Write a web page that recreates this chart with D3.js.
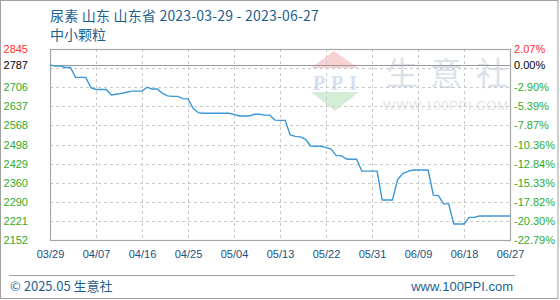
<!DOCTYPE html>
<html>
<head>
<meta charset="utf-8">
<script src="https://cdn.jsdelivr.net/npm/d3@7/dist/d3.min.js"></script>
<style>
  html, body { margin: 0; padding: 0; background: #fff; }
  svg { display: block; }
</style>
</head>
<body>
<svg id="chart" width="560" height="300"></svg>
<script>
// ---------- data ----------
const titleLine1 = "尿素 山东 山东省 2023-03-29 - 2023-06-27";
const titleLine2 = "中小颗粒";
const startDate = "2023-03-29";
const endDate = "2023-06-27";
const prices = [
  2787, 2783, 2783,                                   // 03/29 - 03/31
  2778, 2778, 2742, 2742, 2742, 2705, 2698, 2698, 2698, 2678,   // 04/01 - 04/10
  2681, 2684, 2688, 2692, 2692, 2692, 2706, 2700, 2700, 2684,   // 04/11 - 04/20
  2675, 2673, 2673, 2665, 2664, 2630, 2614, 2612, 2612, 2612,   // 04/21 - 04/30
  2612, 2612, 2612, 2608, 2602, 2602, 2602, 2608, 2608, 2605,   // 05/01 - 05/10
  2605, 2587, 2586, 2586, 2533, 2528, 2526, 2517, 2493, 2492,   // 05/11 - 05/20
  2492, 2487, 2482, 2458, 2458, 2446, 2445, 2445, 2402, 2402,   // 05/21 - 05/30
  2402,                                                          // 05/31
  2402, 2297, 2297, 2297, 2370, 2393, 2401, 2406, 2406, 2406,   // 06/01 - 06/10
  2405, 2315, 2313, 2283, 2283, 2210, 2210, 2210, 2234, 2234,   // 06/11 - 06/20
  2239, 2239, 2239, 2239, 2239, 2239, 2239                      // 06/21 - 06/27
];
const baseValue = 2787;
const yMin = 2152, yMax = 2845;
const leftTickValues = [2845, 2787, 2706, 2637, 2568, 2498, 2429, 2360, 2290, 2221, 2152];
const leftTickLabels = ["2845", "2787", "2706", "2637", "2568", "2498", "2429", "2360", "2290", "2221", "2152"];
const rightTickLabels = ["2.07%", "0.00%", "-2.90%", "-5.39%", "-7.87%", "-10.36%", "-12.84%", "-15.33%", "-17.82%", "-20.30%", "-22.79%"];
const gridValues = [2221.3, 2290.6, 2359.9, 2429.2, 2498.5, 2567.8, 2637.1, 2706.4, 2775.7];
const xTickLabels = ["03/29", "04/07", "04/16", "04/25", "05/04", "05/13", "05/22", "05/31", "06/09", "06/18", "06/27"];
const footerLeft = "© 2025.05 生意社";
const footerRight = "www.100PPI.com";
const watermarkChars = ["生", "意", "社"];

// ---------- layout ----------
const plot = { left: 50, right: 510, top: 49, bottom: 240 };
const svg = d3.select("#chart");
const parse = d3.utcParse("%Y-%m-%d");
const t0 = parse(startDate);
const dates = prices.map((_, i) => d3.utcDay.offset(t0, i));
const data = dates.map((d, i) => ({ date: d, value: prices[i] }));

const x = d3.scaleUtc().domain([t0, parse(endDate)]).range([plot.left, plot.right]);
const y = d3.scaleLinear().domain([yMin, yMax]).range([plot.bottom, plot.top]);
const xTickDates = xTickLabels.map(s => parse("2023-" + s.replace("/", "-")));

// outer border
svg.append("rect").attr("x", 0.5).attr("y", 0.5).attr("width", 557.5).attr("height", 298)
  .attr("fill", "none").attr("stroke", "#a0a0a0").attr("stroke-width", 1);

// titles
const titleColor = "#1f5f8f";
svg.append("text").attr("x", 50).attr("y", 21).attr("fill", titleColor)
  .attr("font-family", "'Noto Sans CJK SC', 'Liberation Sans', sans-serif").attr("font-size", 14)
  .attr("letter-spacing", 0.2)
  .text(titleLine1);
svg.append("text").attr("x", 50).attr("y", 40).attr("fill", titleColor)
  .attr("font-family", "'Noto Sans CJK SC', sans-serif").attr("font-size", 14)
  .text(titleLine2);

// watermark
const wm = svg.append("g");
wm.append("path").attr("d", "M334,51 L358,68 L311,68 Z").attr("fill", "#f8d2d2");
wm.append("text").attr("x", 335).attr("y", 90).attr("text-anchor", "middle")
  .attr("font-family", "'Liberation Serif', serif").attr("font-weight", "bold").attr("font-size", 20)
  .attr("textLength", 44).attr("fill", "#d6def0").text("PPI");
wm.append("path").attr("d", "M311,92 L359,92 L335,111 Z").attr("fill", "#d4edd7");
wm.selectAll("text.wmc").data(watermarkChars).join("text")
  .attr("class", "wmc")
  .attr("x", (d, i) => [402, 446, 492][i]).attr("y", 85).attr("text-anchor", "middle")
  .attr("font-family", "'Noto Sans CJK SC', sans-serif").attr("font-size", 32)
  .attr("fill", "#dbe1ec").text(d => d);
wm.append("text").attr("x", 383).attr("y", 110)
  .attr("font-family", "'Liberation Sans', sans-serif").attr("font-size", 13)
  .attr("textLength", 125).attr("fill", "#e4e4e4").text("WWW.100PPI.COM");

// grid
const grid = svg.append("g").attr("stroke", "#c8c8c8").attr("stroke-dasharray", "3,3").attr("stroke-width", 1);
grid.selectAll("line.h").data(gridValues).join("line")
  .attr("x1", plot.left).attr("x2", plot.right)
  .attr("y1", d => Math.round(y(d)) + 0.5).attr("y2", d => Math.round(y(d)) + 0.5);
grid.selectAll("line.v").data(xTickDates.slice(1, -1)).join("line")
  .attr("y1", plot.top).attr("y2", plot.bottom)
  .attr("x1", d => Math.round(x(d)) + 0.5).attr("x2", d => Math.round(x(d)) + 0.5);

// base (0.00%) line
svg.append("line").attr("x1", plot.left).attr("x2", plot.right)
  .attr("y1", Math.round(y(baseValue)) + 0.5).attr("y2", Math.round(y(baseValue)) + 0.5)
  .attr("stroke", "#999").attr("stroke-width", 1);

// frame
svg.append("rect").attr("x", plot.left + 0.5).attr("y", plot.top + 0.5)
  .attr("width", plot.right - plot.left).attr("height", plot.bottom - plot.top)
  .attr("fill", "none").attr("stroke", "#a6a6a6").attr("stroke-width", 1.2);

// line
svg.append("path").datum(data)
  .attr("fill", "none").attr("stroke", "#3a98d8").attr("stroke-width", 1.4)
  .attr("d", d3.line().x(d => x(d.date)).y(d => y(d.value)));

// left axis labels
const labelColor = (i) => i === 0 ? "#ff3030" : (i === 1 ? "#000" : "#2eaa2e");
const leftAxis = d3.axisLeft(y).tickValues(leftTickValues).tickSize(0).tickPadding(0)
  .tickFormat((d, i) => leftTickLabels[i]);
const gl = svg.append("g").attr("transform", "translate(28,0)").call(leftAxis);
gl.select(".domain").remove();
gl.selectAll("text").attr("font-family", "'Liberation Sans', sans-serif").attr("font-size", 11)
  .attr("fill", (d, i) => labelColor(i));

// right axis labels
const rightAxis = d3.axisRight(y).tickValues(leftTickValues).tickSize(0).tickPadding(0)
  .tickFormat((d, i) => rightTickLabels[i]);
const gr = svg.append("g").attr("transform", "translate(514,0)").call(rightAxis);
gr.select(".domain").remove();
gr.selectAll("text").attr("font-family", "'Liberation Sans', sans-serif").attr("font-size", 11)
  .attr("fill", (d, i) => labelColor(i));

// x axis labels
const xAxis = d3.axisBottom(x).tickValues(xTickDates).tickSize(0).tickPadding(0)
  .tickFormat((d, i) => xTickLabels[i]);
const gx = svg.append("g").attr("transform", "translate(0,250)").call(xAxis);
gx.select(".domain").remove();
gx.selectAll("text").attr("font-family", "'Liberation Sans', sans-serif").attr("font-size", 11)
  .attr("fill", "#1a4f7e");

// footer
svg.append("line").attr("x1", 9).attr("x2", 515).attr("y1", 275.5).attr("y2", 275.5)
  .attr("stroke", "#a0a0a0").attr("stroke-width", 1);
svg.append("text").attr("x", 10).attr("y", 291).attr("fill", titleColor)
  .attr("font-family", "'Noto Sans CJK SC', 'Liberation Sans', sans-serif").attr("font-size", 13)
  .text(footerLeft);
svg.append("text").attr("x", 513).attr("y", 291).attr("text-anchor", "end").attr("fill", titleColor)
  .attr("font-family", "'Liberation Sans', sans-serif").attr("font-size", 13)
  .text(footerRight);
</script>
</body>
</html>
